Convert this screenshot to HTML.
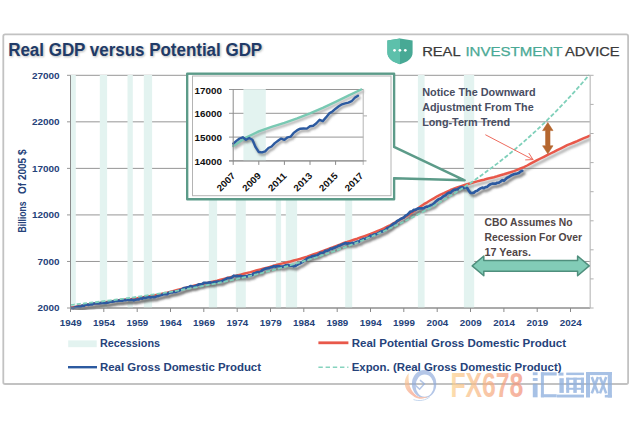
<!DOCTYPE html>
<html lang="en"><head><meta charset="utf-8"><title>Real GDP versus Potential GDP</title>
<style>html,body{margin:0;padding:0;background:#fff;}body{width:630px;height:421px;overflow:hidden;font-family:"Liberation Sans", sans-serif;}svg{display:block;}text{font-family:"Liberation Sans", sans-serif;}</style></head><body>
<svg width="630" height="421" viewBox="0 0 630 421">
<defs><filter id="sh" x="-5%" y="-20%" width="110%" height="150%"><feGaussianBlur stdDeviation="0.9"/></filter><filter id="tsh" x="-5%" y="-30%" width="110%" height="170%"><feGaussianBlur stdDeviation="1.1"/></filter><filter id="soft" x="-5%" y="-30%" width="110%" height="160%"><feGaussianBlur stdDeviation="0.35"/></filter><linearGradient id="fxg" x1="0" x2="1" y1="0" y2="0"><stop offset="0" stop-color="#fbd08d"/><stop offset="1" stop-color="#f1917a"/></linearGradient><clipPath id="plot"><rect x="70" y="70" width="521" height="240"/></clipPath></defs>
<rect width="630" height="421" fill="#fff"/>
<rect x="3.3" y="34.4" width="624.8" height="349.6" rx="1.8" fill="#fff" stroke="#c2c2c2" stroke-width="1.8"/>
<line x1="67" x2="590.2" y1="75.30" y2="75.30" stroke="#969696" stroke-width="1"/>
<line x1="67" x2="590.2" y1="121.84" y2="121.84" stroke="#969696" stroke-width="1"/>
<line x1="67" x2="590.2" y1="168.38" y2="168.38" stroke="#969696" stroke-width="1"/>
<line x1="67" x2="590.2" y1="214.92" y2="214.92" stroke="#969696" stroke-width="1"/>
<line x1="67" x2="590.2" y1="261.46" y2="261.46" stroke="#969696" stroke-width="1"/>
<line x1="67" x2="590.2" y1="308.00" y2="308.00" stroke="#969696" stroke-width="1"/>
<path d="M187.3 73.7 H394 V146.8 L464.6 180.3 L394 178.3 V199.3 H187.3 Z" fill="#fff"/>
<rect x="70.8" y="75.0" width="5.0" height="233.0" fill="#e3f3f0"/>
<rect x="99.8" y="75.0" width="7.3" height="233.0" fill="#e3f3f0"/>
<rect x="127.5" y="75.0" width="5.3" height="233.0" fill="#e3f3f0"/>
<rect x="143.8" y="75.0" width="8.3" height="233.0" fill="#e3f3f0"/>
<rect x="208.8" y="75.0" width="8.3" height="233.0" fill="#e3f3f0"/>
<rect x="235.8" y="75.0" width="10.0" height="233.0" fill="#e3f3f0"/>
<rect x="275.8" y="75.0" width="5.3" height="233.0" fill="#e3f3f0"/>
<rect x="285.8" y="75.0" width="11.3" height="233.0" fill="#e3f3f0"/>
<rect x="345.2" y="75.0" width="7.0" height="233.0" fill="#e3f3f0"/>
<rect x="417.9" y="75.0" width="6.7" height="233.0" fill="#e3f3f0"/>
<rect x="463.9" y="75.0" width="10.3" height="233.0" fill="#e3f3f0"/>
<g clip-path="url(#plot)" fill="none" stroke-linejoin="round" stroke-linecap="round">
<path d="M70.5 307.8 L73.8 307.2 L77.2 306.6 L80.5 306.0 L83.8 305.4 L87.2 304.8 L90.5 304.1 L93.8 303.7 L97.2 303.3 L100.5 302.9 L103.8 302.5 L107.2 302.0 L110.5 301.5 L113.8 300.9 L117.2 300.4 L120.5 300.1 L123.8 299.8 L127.2 299.5 L130.5 299.2 L133.8 298.7 L137.2 298.2 L140.5 297.6 L143.8 297.1 L147.2 296.5 L150.5 296.0 L153.8 295.4 L157.2 294.8 L160.5 294.1 L163.8 293.3 L167.2 292.6 L170.5 291.8 L173.8 290.9 L177.2 290.0 L180.5 289.1 L183.8 288.2 L187.2 287.4 L190.5 286.6 L193.8 285.8 L197.2 285.0 L200.5 284.3 L203.8 283.6 L207.2 282.9 L210.5 282.2 L213.8 281.4 L217.2 280.6 L220.5 279.7 L223.8 278.9 L227.2 278.0 L230.5 277.2 L233.8 276.3 L237.2 275.4 L240.5 274.6 L243.8 273.8 L247.2 272.9 L250.5 272.1 L253.8 271.2 L257.2 270.3 L260.5 269.4 L263.8 268.5 L267.2 267.6 L270.5 266.7 L273.8 265.7 L277.2 264.7 L280.5 263.9 L283.8 263.1 L287.2 262.3 L290.5 261.5 L293.8 260.5 L297.2 259.6 L300.5 258.7 L303.8 257.7 L307.2 256.6 L310.5 255.4 L313.8 254.3 L317.2 253.1 L320.5 251.9 L323.8 250.7 L327.2 249.4 L330.5 248.1 L333.8 246.9 L337.2 245.6 L340.5 244.3 L343.8 243.0 L347.2 242.0 L350.5 240.9 L353.8 239.8 L357.2 238.7 L360.5 237.5 L363.8 236.4 L367.2 235.2 L370.5 234.0 L373.8 232.6 L377.2 231.2 L380.5 229.8 L383.8 228.4 L387.2 226.7 L390.5 225.0 L393.8 223.2 L397.2 221.4 L400.5 219.5 L403.8 217.6 L407.2 215.6 L410.5 213.5 L413.9 211.3 L417.2 209.0 L420.5 206.6 L423.9 204.2 L427.2 202.3 L430.5 200.3 L433.9 198.3 L437.2 196.3 L440.5 194.7 L443.9 193.2 L447.2 191.6 L450.5 190.0 L453.9 188.7 L457.2 187.5 L460.5 186.4 L463.9 185.3 L467.2 184.2 L470.5 183.3 L473.9 182.3 L477.2 181.4 L480.5 180.5 L483.9 179.7 L487.2 178.8 L490.5 178.0 L493.9 177.2 L497.2 176.3 L500.5 175.3 L503.9 174.3 L507.2 173.2 L510.5 172.2 L513.9 171.1 L517.2 169.8 L520.5 168.5 L523.9 167.1 L527.2 165.5 L530.5 163.7 L533.9 161.9 L537.2 160.2 L540.5 158.5 L543.9 156.8 L547.2 155.1 L550.5 153.5 L553.9 151.9 L557.2 150.2 L560.5 148.6 L563.9 146.9 L567.2 145.2 L570.5 143.9 L573.9 142.5 L577.2 141.1 L580.5 139.6 L583.9 138.2 L587.2 136.8 L589.9 135.6" stroke="#6d6d6d" stroke-opacity="0.5" stroke-width="3" transform="translate(2 2.8)" filter="url(#sh)"/>
<path d="M70.5 307.9 L72.2 308.0 L73.8 307.8 L75.5 307.3 L77.2 306.9 L78.8 306.7 L80.5 306.8 L82.2 305.6 L83.8 305.8 L85.5 304.6 L87.2 304.7 L88.8 304.8 L90.5 304.4 L92.2 304.4 L93.8 303.5 L95.5 303.5 L97.2 303.3 L98.8 303.4 L100.5 303.1 L102.2 302.8 L103.8 302.7 L105.5 303.0 L107.2 302.6 L108.8 302.4 L110.5 301.6 L112.2 301.7 L113.8 301.4 L115.5 300.7 L117.2 300.9 L118.8 300.6 L120.5 300.5 L122.2 300.6 L123.8 300.2 L125.5 300.2 L127.2 299.5 L128.8 299.9 L130.5 300.0 L132.2 299.6 L133.8 300.4 L135.5 299.6 L137.2 299.5 L138.8 299.3 L140.5 298.2 L142.2 298.6 L143.8 297.7 L145.5 298.0 L147.2 297.3 L148.8 297.0 L150.5 297.5 L152.2 296.8 L153.8 297.2 L155.5 296.9 L157.2 296.1 L158.8 295.8 L160.5 295.3 L162.2 294.8 L163.8 294.1 L165.5 294.0 L167.2 294.2 L168.8 292.9 L170.5 292.4 L172.2 292.5 L173.8 291.8 L175.5 291.9 L177.2 291.2 L178.8 290.7 L180.5 290.1 L182.2 289.3 L183.8 288.2 L185.5 288.1 L187.2 287.4 L188.8 287.3 L190.5 286.0 L192.2 286.4 L193.8 286.6 L195.5 285.9 L197.2 285.3 L198.8 284.3 L200.5 284.4 L202.2 284.2 L203.8 282.9 L205.5 282.8 L207.2 283.0 L208.8 282.6 L210.5 282.4 L212.2 283.0 L213.8 282.1 L215.5 281.9 L217.2 281.6 L218.8 281.7 L220.5 281.8 L222.2 281.0 L223.8 279.9 L225.5 279.3 L227.2 278.2 L228.8 278.1 L230.5 277.9 L232.2 277.2 L233.8 275.7 L235.5 276.1 L237.2 275.9 L238.8 276.3 L240.5 275.9 L242.2 276.3 L243.8 276.3 L245.5 276.2 L247.2 276.4 L248.8 275.4 L250.5 275.4 L252.2 275.0 L253.8 273.3 L255.5 273.0 L257.2 272.2 L258.8 272.0 L260.5 272.0 L262.2 270.2 L263.8 269.4 L265.5 268.7 L267.2 268.4 L268.8 268.2 L270.5 267.4 L272.2 267.1 L273.8 266.2 L275.5 266.6 L277.2 266.1 L278.8 266.2 L280.5 266.5 L282.2 266.7 L283.8 266.2 L285.5 265.4 L287.2 265.2 L288.8 265.2 L290.5 265.7 L292.2 265.6 L293.8 266.3 L295.5 265.9 L297.2 264.7 L298.8 263.8 L300.5 263.2 L302.2 262.2 L303.8 260.9 L305.5 260.0 L307.2 258.4 L308.8 257.6 L310.5 257.4 L312.2 256.2 L313.8 256.1 L315.5 255.6 L317.2 255.2 L318.8 254.2 L320.5 252.9 L322.2 252.8 L323.8 252.5 L325.5 250.8 L327.2 250.6 L328.8 250.2 L330.5 248.7 L332.2 248.8 L333.8 247.9 L335.5 247.4 L337.2 246.6 L338.8 245.6 L340.5 245.3 L342.2 244.4 L343.8 243.8 L345.5 243.0 L347.2 243.8 L348.8 243.3 L350.5 243.8 L352.2 242.9 L353.8 243.4 L355.5 242.4 L357.2 241.6 L358.8 241.8 L360.5 240.3 L362.2 239.6 L363.8 238.8 L365.5 238.5 L367.2 237.9 L368.8 237.3 L370.5 235.7 L372.2 235.9 L373.8 234.7 L375.5 234.4 L377.2 233.8 L378.8 232.9 L380.5 231.9 L382.2 231.4 L383.8 230.7 L385.5 229.9 L387.2 228.1 L388.8 227.5 L390.5 226.2 L392.2 224.8 L393.8 223.6 L395.5 222.9 L397.2 221.0 L398.8 220.3 L400.5 219.0 L402.2 218.3 L403.8 217.6 L405.5 215.7 L407.2 214.9 L408.9 213.2 L410.5 211.5 L412.2 211.3 L413.9 209.9 L415.5 209.8 L417.2 208.9 L418.9 208.4 L420.5 208.3 L422.2 208.4 L423.9 208.1 L425.5 207.0 L427.2 206.7 L428.9 206.3 L430.5 205.3 L432.2 204.9 L433.9 203.6 L435.5 201.8 L437.2 200.4 L438.9 199.0 L440.5 198.7 L442.2 197.2 L443.9 195.9 L445.5 195.3 L447.2 193.6 L448.9 192.7 L450.5 192.7 L452.2 191.1 L453.9 189.9 L455.5 189.6 L457.2 189.5 L458.9 188.5 L460.5 187.5 L462.2 187.1 L463.9 188.0 L465.5 187.3 L467.2 188.0 L468.9 190.9 L470.5 192.8 L472.2 193.0 L473.9 192.6 L475.5 191.3 L477.2 190.7 L478.9 189.4 L480.5 188.4 L482.2 187.6 L483.9 188.1 L485.5 187.1 L487.2 186.8 L488.9 185.2 L490.5 184.3 L492.2 183.7 L493.9 183.6 L495.5 183.7 L497.2 182.8 L498.9 182.6 L500.5 181.6 L502.2 180.2 L503.9 180.7 L505.5 179.3 L507.2 177.7 L508.9 177.0 L510.5 175.9 L512.2 174.9 L513.9 174.2 L515.5 173.8 L517.2 173.5 L518.9 173.0 L520.5 171.6 L522.2 170.8" stroke="#555" stroke-opacity="0.7" stroke-width="3" transform="translate(2 2.8)" filter="url(#sh)"/>
<path d="M70.5 307.8 L73.8 307.2 L77.2 306.6 L80.5 306.0 L83.8 305.4 L87.2 304.8 L90.5 304.1 L93.8 303.7 L97.2 303.3 L100.5 302.9 L103.8 302.5 L107.2 302.0 L110.5 301.5 L113.8 300.9 L117.2 300.4 L120.5 300.1 L123.8 299.8 L127.2 299.5 L130.5 299.2 L133.8 298.7 L137.2 298.2 L140.5 297.6 L143.8 297.1 L147.2 296.5 L150.5 296.0 L153.8 295.4 L157.2 294.8 L160.5 294.1 L163.8 293.3 L167.2 292.6 L170.5 291.8 L173.8 290.9 L177.2 290.0 L180.5 289.1 L183.8 288.2 L187.2 287.4 L190.5 286.6 L193.8 285.8 L197.2 285.0 L200.5 284.3 L203.8 283.6 L207.2 282.9 L210.5 282.2 L213.8 281.4 L217.2 280.6 L220.5 279.7 L223.8 278.9 L227.2 278.0 L230.5 277.2 L233.8 276.3 L237.2 275.4 L240.5 274.6 L243.8 273.8 L247.2 272.9 L250.5 272.1 L253.8 271.2 L257.2 270.3 L260.5 269.4 L263.8 268.5 L267.2 267.6 L270.5 266.7 L273.8 265.7 L277.2 264.7 L280.5 263.9 L283.8 263.1 L287.2 262.3 L290.5 261.5 L293.8 260.5 L297.2 259.6 L300.5 258.7 L303.8 257.7 L307.2 256.6 L310.5 255.4 L313.8 254.3 L317.2 253.1 L320.5 251.9 L323.8 250.7 L327.2 249.4 L330.5 248.1 L333.8 246.9 L337.2 245.6 L340.5 244.3 L343.8 243.0 L347.2 242.0 L350.5 240.9 L353.8 239.8 L357.2 238.7 L360.5 237.5 L363.8 236.4 L367.2 235.2 L370.5 234.0 L373.8 232.6 L377.2 231.2 L380.5 229.8 L383.8 228.4 L387.2 226.7 L390.5 225.0 L393.8 223.2 L397.2 221.4 L400.5 219.5 L403.8 217.6 L407.2 215.6 L410.5 213.5 L413.9 211.3 L417.2 209.0 L420.5 206.6 L423.9 204.2 L427.2 202.3 L430.5 200.3 L433.9 198.3 L437.2 196.3 L440.5 194.7 L443.9 193.2 L447.2 191.6 L450.5 190.0 L453.9 188.7 L457.2 187.5 L460.5 186.4 L463.9 185.3 L467.2 184.2 L470.5 183.3 L473.9 182.3 L477.2 181.4 L480.5 180.5 L483.9 179.7 L487.2 178.8 L490.5 178.0 L493.9 177.2 L497.2 176.3 L500.5 175.3 L503.9 174.3 L507.2 173.2 L510.5 172.2 L513.9 171.1 L517.2 169.8 L520.5 168.5 L523.9 167.1 L527.2 165.5 L530.5 163.7 L533.9 161.9 L537.2 160.2 L540.5 158.5 L543.9 156.8 L547.2 155.1 L550.5 153.5 L553.9 151.9 L557.2 150.2 L560.5 148.6 L563.9 146.9 L567.2 145.2 L570.5 143.9 L573.9 142.5 L577.2 141.1 L580.5 139.6 L583.9 138.2 L587.2 136.8 L589.9 135.6" stroke="#e8584a" stroke-width="2.5"/>
<path d="M70.5 307.9 L72.2 308.0 L73.8 307.8 L75.5 307.3 L77.2 306.9 L78.8 306.7 L80.5 306.8 L82.2 305.6 L83.8 305.8 L85.5 304.6 L87.2 304.7 L88.8 304.8 L90.5 304.4 L92.2 304.4 L93.8 303.5 L95.5 303.5 L97.2 303.3 L98.8 303.4 L100.5 303.1 L102.2 302.8 L103.8 302.7 L105.5 303.0 L107.2 302.6 L108.8 302.4 L110.5 301.6 L112.2 301.7 L113.8 301.4 L115.5 300.7 L117.2 300.9 L118.8 300.6 L120.5 300.5 L122.2 300.6 L123.8 300.2 L125.5 300.2 L127.2 299.5 L128.8 299.9 L130.5 300.0 L132.2 299.6 L133.8 300.4 L135.5 299.6 L137.2 299.5 L138.8 299.3 L140.5 298.2 L142.2 298.6 L143.8 297.7 L145.5 298.0 L147.2 297.3 L148.8 297.0 L150.5 297.5 L152.2 296.8 L153.8 297.2 L155.5 296.9 L157.2 296.1 L158.8 295.8 L160.5 295.3 L162.2 294.8 L163.8 294.1 L165.5 294.0 L167.2 294.2 L168.8 292.9 L170.5 292.4 L172.2 292.5 L173.8 291.8 L175.5 291.9 L177.2 291.2 L178.8 290.7 L180.5 290.1 L182.2 289.3 L183.8 288.2 L185.5 288.1 L187.2 287.4 L188.8 287.3 L190.5 286.0 L192.2 286.4 L193.8 286.6 L195.5 285.9 L197.2 285.3 L198.8 284.3 L200.5 284.4 L202.2 284.2 L203.8 282.9 L205.5 282.8 L207.2 283.0 L208.8 282.6 L210.5 282.4 L212.2 283.0 L213.8 282.1 L215.5 281.9 L217.2 281.6 L218.8 281.7 L220.5 281.8 L222.2 281.0 L223.8 279.9 L225.5 279.3 L227.2 278.2 L228.8 278.1 L230.5 277.9 L232.2 277.2 L233.8 275.7 L235.5 276.1 L237.2 275.9 L238.8 276.3 L240.5 275.9 L242.2 276.3 L243.8 276.3 L245.5 276.2 L247.2 276.4 L248.8 275.4 L250.5 275.4 L252.2 275.0 L253.8 273.3 L255.5 273.0 L257.2 272.2 L258.8 272.0 L260.5 272.0 L262.2 270.2 L263.8 269.4 L265.5 268.7 L267.2 268.4 L268.8 268.2 L270.5 267.4 L272.2 267.1 L273.8 266.2 L275.5 266.6 L277.2 266.1 L278.8 266.2 L280.5 266.5 L282.2 266.7 L283.8 266.2 L285.5 265.4 L287.2 265.2 L288.8 265.2 L290.5 265.7 L292.2 265.6 L293.8 266.3 L295.5 265.9 L297.2 264.7 L298.8 263.8 L300.5 263.2 L302.2 262.2 L303.8 260.9 L305.5 260.0 L307.2 258.4 L308.8 257.6 L310.5 257.4 L312.2 256.2 L313.8 256.1 L315.5 255.6 L317.2 255.2 L318.8 254.2 L320.5 252.9 L322.2 252.8 L323.8 252.5 L325.5 250.8 L327.2 250.6 L328.8 250.2 L330.5 248.7 L332.2 248.8 L333.8 247.9 L335.5 247.4 L337.2 246.6 L338.8 245.6 L340.5 245.3 L342.2 244.4 L343.8 243.8 L345.5 243.0 L347.2 243.8 L348.8 243.3 L350.5 243.8 L352.2 242.9 L353.8 243.4 L355.5 242.4 L357.2 241.6 L358.8 241.8 L360.5 240.3 L362.2 239.6 L363.8 238.8 L365.5 238.5 L367.2 237.9 L368.8 237.3 L370.5 235.7 L372.2 235.9 L373.8 234.7 L375.5 234.4 L377.2 233.8 L378.8 232.9 L380.5 231.9 L382.2 231.4 L383.8 230.7 L385.5 229.9 L387.2 228.1 L388.8 227.5 L390.5 226.2 L392.2 224.8 L393.8 223.6 L395.5 222.9 L397.2 221.0 L398.8 220.3 L400.5 219.0 L402.2 218.3 L403.8 217.6 L405.5 215.7 L407.2 214.9 L408.9 213.2 L410.5 211.5 L412.2 211.3 L413.9 209.9 L415.5 209.8 L417.2 208.9 L418.9 208.4 L420.5 208.3 L422.2 208.4 L423.9 208.1 L425.5 207.0 L427.2 206.7 L428.9 206.3 L430.5 205.3 L432.2 204.9 L433.9 203.6 L435.5 201.8 L437.2 200.4 L438.9 199.0 L440.5 198.7 L442.2 197.2 L443.9 195.9 L445.5 195.3 L447.2 193.6 L448.9 192.7 L450.5 192.7 L452.2 191.1 L453.9 189.9 L455.5 189.6 L457.2 189.5 L458.9 188.5 L460.5 187.5 L462.2 187.1 L463.9 188.0 L465.5 187.3 L467.2 188.0 L468.9 190.9 L470.5 192.8 L472.2 193.0 L473.9 192.6 L475.5 191.3 L477.2 190.7 L478.9 189.4 L480.5 188.4 L482.2 187.6 L483.9 188.1 L485.5 187.1 L487.2 186.8 L488.9 185.2 L490.5 184.3 L492.2 183.7 L493.9 183.6 L495.5 183.7 L497.2 182.8 L498.9 182.6 L500.5 181.6 L502.2 180.2 L503.9 180.7 L505.5 179.3 L507.2 177.7 L508.9 177.0 L510.5 175.9 L512.2 174.9 L513.9 174.2 L515.5 173.8 L517.2 173.5 L518.9 173.0 L520.5 171.6 L522.2 170.8" stroke="#2c5aa0" stroke-width="2.7"/>
<path d="M70.5 304.9 L73.8 304.6 L77.2 304.2 L80.5 303.8 L83.8 303.5 L87.2 303.1 L90.5 302.7 L93.8 302.4 L97.2 302.0 L100.5 301.6 L103.8 301.2 L107.2 300.8 L110.5 300.4 L113.8 300.0 L117.2 299.5 L120.5 299.1 L123.8 298.7 L127.2 298.2 L130.5 297.8 L133.8 297.3 L137.2 296.9 L140.5 296.4 L143.8 295.9 L147.2 295.4 L150.5 294.9 L153.8 294.4 L157.2 293.9 L160.5 293.4 L163.8 292.9 L167.2 292.3 L170.5 291.8 L173.8 291.2 L177.2 290.7 L180.5 290.1 L183.8 289.5 L187.2 288.9 L190.5 288.3 L193.8 287.7 L197.2 287.1 L200.5 286.5 L203.8 285.8 L207.2 285.2 L210.5 284.5 L213.8 283.9 L217.2 283.2 L220.5 282.5 L223.8 281.8 L227.2 281.1 L230.5 280.4 L233.8 279.6 L237.2 278.9 L240.5 278.1 L243.8 277.4 L247.2 276.6 L250.5 275.8 L253.8 275.0 L257.2 274.2 L260.5 273.3 L263.8 272.5 L267.2 271.6 L270.5 270.7 L273.8 269.9 L277.2 269.0 L280.5 268.0 L283.8 267.1 L287.2 266.2 L290.5 265.2 L293.8 264.2 L297.2 263.2 L300.5 262.2 L303.8 261.2 L307.2 260.2 L310.5 259.1 L313.8 258.1 L317.2 257.0 L320.5 255.9 L323.8 254.7 L327.2 253.6 L330.5 252.4 L333.8 251.3 L337.2 250.1 L340.5 248.8 L343.8 247.6 L347.2 246.4 L350.5 245.1 L353.8 243.8 L357.2 242.5 L360.5 241.1 L363.8 239.8 L367.2 238.4 L370.5 237.0 L373.8 235.6 L377.2 234.1 L380.5 232.7 L383.8 231.2 L387.2 229.7 L390.5 228.1 L393.8 226.6 L397.2 225.0 L400.5 223.4 L403.8 221.7 L407.2 220.0 L410.5 218.4 L413.9 216.6 L417.2 214.9 L420.5 213.1 L423.9 211.3 L427.2 209.5 L430.5 207.6 L433.9 205.7 L437.2 203.8 L440.5 201.9 L443.9 199.9 L447.2 197.9 L450.5 195.8 L453.9 193.8 L457.2 191.6 L460.5 189.5 L463.9 187.3 L467.2 185.1 L470.5 182.9 L473.9 180.6 L477.2 178.3 L480.5 175.9 L483.9 173.5 L487.2 171.1 L490.5 168.6 L493.9 166.1 L497.2 163.6 L500.5 161.0 L503.9 158.4 L507.2 155.7 L510.5 153.0 L513.9 150.2 L517.2 147.4 L520.5 144.6 L523.9 141.7 L527.2 138.7 L530.5 135.8 L533.9 132.7 L537.2 129.7 L540.5 126.5 L543.9 123.3 L547.2 120.1 L550.5 116.8 L553.9 113.5 L557.2 110.1 L560.5 106.7 L563.9 103.2 L567.2 99.7 L570.5 96.1 L573.9 92.4 L577.2 88.7 L580.5 84.9 L583.9 81.1 L587.2 77.2 L588.9 75.2" stroke="#7fd0ba" stroke-width="1.8" stroke-dasharray="4.2 2" stroke-linecap="butt"/>
</g>
<g stroke="#8a8a8a" stroke-width="1" fill="none">
<line x1="70.5" x2="70.5" y1="75.3" y2="312.0"/>
<line x1="70.0" x2="590.2" y1="308.0" y2="308.0"/>
<line x1="590.2" x2="590.2" y1="75.3" y2="308.0" stroke="#c2c2c2" stroke-width="1.3"/>
<line x1="103.8" x2="103.8" y1="308.0" y2="312.0"/>
<line x1="137.2" x2="137.2" y1="308.0" y2="312.0"/>
<line x1="170.5" x2="170.5" y1="308.0" y2="312.0"/>
<line x1="203.8" x2="203.8" y1="308.0" y2="312.0"/>
<line x1="237.2" x2="237.2" y1="308.0" y2="312.0"/>
<line x1="270.5" x2="270.5" y1="308.0" y2="312.0"/>
<line x1="303.8" x2="303.8" y1="308.0" y2="312.0"/>
<line x1="337.2" x2="337.2" y1="308.0" y2="312.0"/>
<line x1="370.5" x2="370.5" y1="308.0" y2="312.0"/>
<line x1="403.8" x2="403.8" y1="308.0" y2="312.0"/>
<line x1="437.2" x2="437.2" y1="308.0" y2="312.0"/>
<line x1="470.5" x2="470.5" y1="308.0" y2="312.0"/>
<line x1="503.9" x2="503.9" y1="308.0" y2="312.0"/>
<line x1="537.2" x2="537.2" y1="308.0" y2="312.0"/>
<line x1="570.5" x2="570.5" y1="308.0" y2="312.0"/>
<line x1="590.2" x2="593.6" y1="75.3" y2="75.3" stroke="#b0b0b0"/>
<line x1="590.2" x2="593.6" y1="104.4" y2="104.4" stroke="#b0b0b0"/>
<line x1="590.2" x2="593.6" y1="133.5" y2="133.5" stroke="#b0b0b0"/>
<line x1="590.2" x2="593.6" y1="162.6" y2="162.6" stroke="#b0b0b0"/>
<line x1="590.2" x2="593.6" y1="191.7" y2="191.7" stroke="#b0b0b0"/>
<line x1="590.2" x2="593.6" y1="220.8" y2="220.8" stroke="#b0b0b0"/>
<line x1="590.2" x2="593.6" y1="249.8" y2="249.8" stroke="#b0b0b0"/>
<line x1="590.2" x2="593.6" y1="278.9" y2="278.9" stroke="#b0b0b0"/>
<line x1="590.2" x2="593.6" y1="308.0" y2="308.0" stroke="#b0b0b0"/>
</g>
<g font-weight="700" font-size="9.7" fill="#25427a">
<text x="59.5" y="78.7" text-anchor="end" textLength="27.6" lengthAdjust="spacingAndGlyphs">27000</text>
<text x="59.5" y="125.2" text-anchor="end" textLength="27.6" lengthAdjust="spacingAndGlyphs">22000</text>
<text x="59.5" y="171.8" text-anchor="end" textLength="27.6" lengthAdjust="spacingAndGlyphs">17000</text>
<text x="59.5" y="218.3" text-anchor="end" textLength="27.6" lengthAdjust="spacingAndGlyphs">12000</text>
<text x="59.5" y="264.9" text-anchor="end" textLength="22.0" lengthAdjust="spacingAndGlyphs">7000</text>
<text x="59.5" y="311.4" text-anchor="end" textLength="22.0" lengthAdjust="spacingAndGlyphs">2000</text>
<text x="70.7" y="326.4" text-anchor="middle" textLength="21.8" lengthAdjust="spacingAndGlyphs">1949</text>
<text x="104.0" y="326.4" text-anchor="middle" textLength="21.8" lengthAdjust="spacingAndGlyphs">1954</text>
<text x="137.4" y="326.4" text-anchor="middle" textLength="21.8" lengthAdjust="spacingAndGlyphs">1959</text>
<text x="170.7" y="326.4" text-anchor="middle" textLength="21.8" lengthAdjust="spacingAndGlyphs">1964</text>
<text x="204.0" y="326.4" text-anchor="middle" textLength="21.8" lengthAdjust="spacingAndGlyphs">1969</text>
<text x="237.4" y="326.4" text-anchor="middle" textLength="21.8" lengthAdjust="spacingAndGlyphs">1974</text>
<text x="270.7" y="326.4" text-anchor="middle" textLength="21.8" lengthAdjust="spacingAndGlyphs">1979</text>
<text x="304.0" y="326.4" text-anchor="middle" textLength="21.8" lengthAdjust="spacingAndGlyphs">1984</text>
<text x="337.4" y="326.4" text-anchor="middle" textLength="21.8" lengthAdjust="spacingAndGlyphs">1989</text>
<text x="370.7" y="326.4" text-anchor="middle" textLength="21.8" lengthAdjust="spacingAndGlyphs">1994</text>
<text x="404.0" y="326.4" text-anchor="middle" textLength="21.8" lengthAdjust="spacingAndGlyphs">1999</text>
<text x="437.4" y="326.4" text-anchor="middle" textLength="21.8" lengthAdjust="spacingAndGlyphs">2004</text>
<text x="470.7" y="326.4" text-anchor="middle" textLength="21.8" lengthAdjust="spacingAndGlyphs">2009</text>
<text x="504.1" y="326.4" text-anchor="middle" textLength="21.8" lengthAdjust="spacingAndGlyphs">2014</text>
<text x="537.4" y="326.4" text-anchor="middle" textLength="21.8" lengthAdjust="spacingAndGlyphs">2019</text>
<text x="570.7" y="326.4" text-anchor="middle" textLength="21.8" lengthAdjust="spacingAndGlyphs">2024</text>
</g>
<g font-weight="700" font-size="10.2" fill="#25427a">
<text transform="translate(25.9 232.4) rotate(-90)" textLength="31" lengthAdjust="spacingAndGlyphs">Billions</text>
<text transform="translate(25.9 194) rotate(-90)" textLength="44.5" lengthAdjust="spacingAndGlyphs">Of 2005 $</text>
</g>
<text x="8.2" y="55.8" font-weight="700" font-size="17.5" fill="#777" fill-opacity="0.55" textLength="254" lengthAdjust="spacingAndGlyphs" transform="translate(1 1.6)" filter="url(#tsh)">Real GDP versus Potential GDP</text>
<text x="8.2" y="55.8" font-weight="700" font-size="17.5" fill="#203a68" textLength="254" lengthAdjust="spacingAndGlyphs">Real GDP versus Potential GDP</text>
<path d="M187.3 73.7 H394 V146.8 L464.6 180.3 L394 178.3 V199.3 H187.3 Z" fill="none" stroke="#5c9b89" stroke-width="2.6" stroke-linejoin="round"/>
<rect x="188.6" y="74.9" width="204.2" height="123.1" fill="#fff"/>
<rect x="192.5" y="76" width="198.5" height="119.7" fill="#fff" stroke="#b4b4b4" stroke-width="1"/>
<line x1="229" x2="363.4" y1="89.5" y2="89.5" stroke="#969696" stroke-width="1"/>
<line x1="229" x2="363.4" y1="113.3" y2="113.3" stroke="#969696" stroke-width="1"/>
<line x1="229" x2="363.4" y1="137.1" y2="137.1" stroke="#969696" stroke-width="1"/>
<line x1="229" x2="363.4" y1="160.9" y2="160.9" stroke="#969696" stroke-width="1"/>
<rect x="243.4" y="89.2" width="22.4" height="71.7" fill="#e3f3f0"/>
<g fill="none" stroke-linejoin="round" stroke-linecap="round">
<path d="M233.2 146.1 L246.0 137.6 L258.8 131.4 L271.6 126.9 L284.4 122.8 L297.2 118.3 L310.0 113.3 L322.8 107.8 L335.6 101.9 L348.4 95.7 L361.2 89.5" stroke="#6d6d6d" stroke-opacity="0.5" stroke-width="2.6" transform="translate(1.6 2.2)" filter="url(#sh)"/>
<path d="M233.2 143.6 L236.4 140.9 L239.6 138.5 L242.8 137.3 L246.0 139.7 L249.2 138.0 L252.4 139.7 L255.6 147.2 L258.8 152.0 L262.0 152.4 L265.2 151.3 L268.4 148.0 L271.6 146.5 L274.8 143.1 L278.0 140.8 L281.2 138.6 L284.4 139.9 L287.6 137.3 L290.8 136.6 L294.0 132.6 L297.2 130.2 L300.4 128.7 L303.6 128.5 L306.8 128.6 L310.0 126.3 L313.2 125.8 L316.4 123.3 L319.6 119.8 L322.8 121.1 L326.0 117.4 L329.2 113.4 L332.4 111.5 L335.6 108.7 L338.8 106.2 L342.0 104.3 L345.2 103.4 L348.4 102.6 L351.6 101.2 L354.8 97.8 L358.0 95.7" stroke="#5a5a5a" stroke-opacity="0.55" stroke-width="2.6" transform="translate(1.6 2.2)" filter="url(#sh)"/>
<path d="M233.2 146.1 L246.0 137.6 L258.8 131.4 L271.6 126.9 L284.4 122.8 L297.2 118.3 L310.0 113.3 L322.8 107.8 L335.6 101.9 L348.4 95.7 L361.2 89.5" stroke="#79c9b3" stroke-width="2.4"/>
<path d="M233.2 143.6 L236.4 140.9 L239.6 138.5 L242.8 137.3 L246.0 139.7 L249.2 138.0 L252.4 139.7 L255.6 147.2 L258.8 152.0 L262.0 152.4 L265.2 151.3 L268.4 148.0 L271.6 146.5 L274.8 143.1 L278.0 140.8 L281.2 138.6 L284.4 139.9 L287.6 137.3 L290.8 136.6 L294.0 132.6 L297.2 130.2 L300.4 128.7 L303.6 128.5 L306.8 128.6 L310.0 126.3 L313.2 125.8 L316.4 123.3 L319.6 119.8 L322.8 121.1 L326.0 117.4 L329.2 113.4 L332.4 111.5 L335.6 108.7 L338.8 106.2 L342.0 104.3 L345.2 103.4 L348.4 102.6 L351.6 101.2 L354.8 97.8 L358.0 95.7" stroke="#2c5aa0" stroke-width="2.4"/>
</g>
<g stroke="#8a8a8a" stroke-width="1">
<line x1="233.2" x2="233.2" y1="89.5" y2="164.9"/>
<line x1="363.2" x2="363.2" y1="89.5" y2="164.9" stroke="#b4b4b4"/>
<line x1="229" x2="366.5" y1="160.9" y2="160.9"/>
<line x1="258.8" x2="258.8" y1="160.9" y2="164.9"/>
<line x1="284.4" x2="284.4" y1="160.9" y2="164.9"/>
<line x1="310.0" x2="310.0" y1="160.9" y2="164.9"/>
<line x1="335.6" x2="335.6" y1="160.9" y2="164.9"/>
<line x1="363.4" x2="367" y1="115.9" y2="115.9" stroke="#aaa"/>
</g>
<g font-weight="700" font-size="9.2" fill="#111">
<text x="221.9" y="93.6" text-anchor="end" textLength="27.4" lengthAdjust="spacingAndGlyphs">17000</text>
<text x="221.9" y="117.4" text-anchor="end" textLength="27.4" lengthAdjust="spacingAndGlyphs">16000</text>
<text x="221.9" y="141.2" text-anchor="end" textLength="27.4" lengthAdjust="spacingAndGlyphs">15000</text>
<text x="221.9" y="165.0" text-anchor="end" textLength="27.4" lengthAdjust="spacingAndGlyphs">14000</text>
<text transform="translate(236.0 176.4) rotate(-45)" text-anchor="end" textLength="22" lengthAdjust="spacingAndGlyphs">2007</text>
<text transform="translate(261.6 176.4) rotate(-45)" text-anchor="end" textLength="22" lengthAdjust="spacingAndGlyphs">2009</text>
<text transform="translate(287.2 176.4) rotate(-45)" text-anchor="end" textLength="22" lengthAdjust="spacingAndGlyphs">2011</text>
<text transform="translate(312.8 176.4) rotate(-45)" text-anchor="end" textLength="22" lengthAdjust="spacingAndGlyphs">2013</text>
<text transform="translate(338.4 176.4) rotate(-45)" text-anchor="end" textLength="22" lengthAdjust="spacingAndGlyphs">2015</text>
<text transform="translate(364.0 176.4) rotate(-45)" text-anchor="end" textLength="22" lengthAdjust="spacingAndGlyphs">2017</text>
</g>
<g font-weight="700" font-size="11" fill="#484d62">
<text x="422.2" y="96.2" textLength="113.5" lengthAdjust="spacingAndGlyphs">Notice The Downward</text>
<text x="422.2" y="111.1" textLength="111.5" lengthAdjust="spacingAndGlyphs">Adjustment From The</text>
<text x="422.2" y="125.9" textLength="87.8" lengthAdjust="spacingAndGlyphs">Long-Term Trend</text>
</g>
<g font-weight="700" font-size="11" fill="#504546">
<text x="484.6" y="225.6" textLength="88" lengthAdjust="spacingAndGlyphs">CBO Assumes No</text>
<text x="484.6" y="240.6" textLength="97.5" lengthAdjust="spacingAndGlyphs">Recession For Over</text>
<text x="484.6" y="255.7" textLength="46.5" lengthAdjust="spacingAndGlyphs">17 Years.</text>
</g>
<g stroke="#ee6b5e" stroke-width="1" fill="none" stroke-linecap="round"><path d="M485.7 134.9 L533 159.6"/><path d="M525.6 159.9 L533 159.6 L529 153.4"/></g>
<path d="M547.8 122.6 L553 130.6 H550 V145.8 H553 L547.8 153.8 L542.6 145.8 H545.6 V130.6 H542.6 Z" fill="#b5672f" stroke="#b5672f" stroke-width="0.6" stroke-linejoin="round"/>
<path d="M472.2 265.9 L483.8 256 V260.6 H577.6 V256 L589.2 265.9 L577.6 275.8 V271.2 H483.8 V275.8 Z" fill="#82ccb7" stroke="#4f8f7d" stroke-width="1.5" stroke-linejoin="round"/>
<rect x="68.2" y="340.4" width="28.5" height="6.8" fill="#e3f3f0"/>
<line x1="68" x2="97" y1="367.2" y2="367.2" stroke="#2c5aa0" stroke-width="2.4"/>
<line x1="318.4" x2="348.4" y1="342.8" y2="342.8" stroke="#e8584a" stroke-width="2.8"/>
<line x1="318.4" x2="348.4" y1="367.2" y2="367.2" stroke="#86d3be" stroke-width="1.6" stroke-dasharray="4.4 2.8"/>
<g font-weight="700" font-size="11" fill="#25427a">
<text x="100" y="347.2" textLength="60" lengthAdjust="spacingAndGlyphs">Recessions</text>
<text x="100" y="371.2" textLength="161" lengthAdjust="spacingAndGlyphs">Real Gross Domestic Product</text>
<text x="351.7" y="347.2" textLength="214.3" lengthAdjust="spacingAndGlyphs">Real Potential Gross Domestic Product</text>
<text x="351.7" y="371.2" textLength="209.8" lengthAdjust="spacingAndGlyphs">Expon. (Real Gross Domestic Product)</text>
</g>
<g>
<path d="M387.4 40.6 L400 38.6 L412.6 40.6 V52.5 C412.6 58.6 407.5 62 400 64.2 C392.5 62 387.4 58.6 387.4 52.5 Z" fill="#48a995"/>
<path d="M387.4 40.6 L400 38.6 V64.2 C392.5 62 387.4 58.6 387.4 52.5 Z" fill="#5dc0ab"/>
<circle cx="394.5" cy="50.3" r="1.35" fill="#fff"/>
<circle cx="399.9" cy="50.3" r="1.35" fill="#fff"/>
<circle cx="405.3" cy="50.3" r="1.35" fill="#fff"/>
<text x="422.2" y="55.5" font-size="12.4" fill="#3a3a3a" stroke="#3a3a3a" stroke-width="0.25" textLength="38.4" lengthAdjust="spacingAndGlyphs">REAL</text>
<text x="465.4" y="55.5" font-size="12.4" fill="#4aa995" stroke="#4aa995" stroke-width="0.25" textLength="97.0" lengthAdjust="spacingAndGlyphs">INVESTMENT</text>
<text x="565.0" y="55.5" font-size="12.4" fill="#3a3a3a" stroke="#3a3a3a" stroke-width="0.25" textLength="54.6" lengthAdjust="spacingAndGlyphs">ADVICE</text>
</g>
<defs><linearGradient id="org" x1="0" x2="0.6" y1="0" y2="1"><stop offset="0" stop-color="#fbd596"/><stop offset="1" stop-color="#f58f7c"/></linearGradient></defs>
<g opacity="0.66">
<path fill-rule="evenodd" fill="#8eaadb" d="M411.9 384 a12.2 14 0 1 0 24.4 0 a12.2 14 0 1 0 -24.4 0 Z M415.6 385.6 a9.1 11.2 0 1 0 18.2 0 a9.1 11.2 0 1 0 -18.2 0 Z"/>
<path fill="url(#org)" d="M408.8 373 C401.5 381 403.5 394.5 419.8 398 C410.5 393 407.6 383.5 408.8 373 Z"/>
<path fill="#f5a283" d="M409.4 391.2 C413 399 422.5 400.6 428 396.6 C421 398.2 414 396.6 409.4 391.2 Z"/>
<path fill="none" stroke="#a9c3e6" stroke-width="1" d="M413.5 399.6 C419 401.6 426 400.4 430 396.6"/>
<path fill="none" stroke="#8eaadb" stroke-width="1.5" stroke-linejoin="miter" d="M420 380.2 L424.4 383.8 L419.6 389.2 L413.6 383.6"/>
</g>
<text x="450.4" y="396.8" font-weight="700" font-size="35.6" fill="url(#fxg)" fill-opacity="0.72" textLength="73" lengthAdjust="spacingAndGlyphs">FX678</text>
<g opacity="0.78">
<g fill="#8fb0de">
<rect x="532.8" y="372.3" width="4.8" height="2.9"/><rect x="532.8" y="378" width="4.8" height="2.9"/><rect x="532.8" y="383.7" width="4.8" height="13.6"/>
<rect x="540.9" y="372.3" width="15.8" height="3.2"/><rect x="540.9" y="372.3" width="3" height="25"/><rect x="540.9" y="394.2" width="15.8" height="3.1"/>
<rect x="558.5" y="372.6" width="5" height="3"/><rect x="559.4" y="378.2" width="4.4" height="14.7"/><rect x="556.9" y="394.6" width="27.1" height="2.9"/>
<rect x="566.2" y="372.6" width="17.8" height="2.5"/><rect x="566.2" y="377.7" width="3" height="15.2"/><rect x="580.9" y="377.7" width="3.1" height="15.2"/><rect x="566.2" y="377.7" width="17.8" height="2.1"/><rect x="566.2" y="382.8" width="17.8" height="2"/><rect x="566.2" y="387.8" width="17.8" height="2"/><rect x="573.3" y="377.7" width="3.5" height="15.2"/>
<rect x="586" y="372" width="25.9" height="3.1"/><rect x="586" y="372" width="4" height="25.5"/><rect x="607.8" y="372" width="4.1" height="25.5"/><rect x="604.8" y="394.9" width="7.1" height="2.6"/>
</g>
<g stroke="#8fb0de" stroke-width="2.6" fill="none"><path d="M591.8 377 L598 393.4"/><path d="M598 377 L591.8 393.4"/><path d="M600 377 L606.2 393.4"/><path d="M606.2 377 L600 393.4"/></g>
</g>
</svg></body></html>
